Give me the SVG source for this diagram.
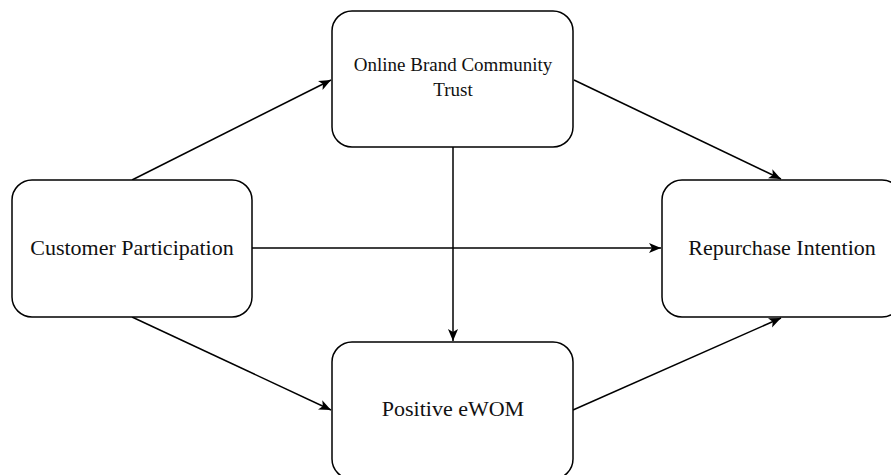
<svg xmlns="http://www.w3.org/2000/svg" width="891" height="475" viewBox="0 0 891 475">
<style>
.box{fill:#fff;stroke:#000;stroke-width:1.5}
.lbl{font-family:"Liberation Serif","Times New Roman",serif;font-size:22px;fill:#111;text-anchor:middle}
.sm{font-size:19px}
.edge{stroke:#000;stroke-width:1.5;fill:none;marker-end:url(#ah)}
</style>
<defs>
<marker id="ah" viewBox="0 0 10 10" refX="10" refY="5" markerWidth="12" markerHeight="12" markerUnits="userSpaceOnUse" orient="auto">
<path d="M0,0.8 L10,5 L0,9.2 L2.5,5 Z" fill="#000"/>
</marker>
</defs>
<rect width="891" height="475" fill="#fff"/>
<g id="connectors">
<line class="edge" x1="132" y1="180" x2="331" y2="80"/>
<line class="edge" x1="574" y1="80" x2="781" y2="179"/>
<line class="edge" x1="252" y1="248" x2="661" y2="248"/>
<line class="edge" x1="132" y1="317" x2="331" y2="410"/>
<line class="edge" x1="453" y1="147" x2="453" y2="341"/>
<line class="edge" x1="573" y1="410" x2="781" y2="318"/>
</g>
<g id="node-trust">
<rect class="box" x="332" y="11" width="241" height="136" rx="20"/>
<text class="lbl sm" x="453" y="71">Online Brand Community</text>
<text class="lbl sm" x="453" y="96">Trust</text>
</g>
<g id="node-participation">
<rect class="box" x="12" y="180" width="240" height="137" rx="20"/>
<text class="lbl" x="132" y="255">Customer Participation</text>
</g>
<g id="node-repurchase">
<rect class="box" x="662" y="180" width="240" height="137" rx="20"/>
<text class="lbl" x="782" y="255">Repurchase Intention</text>
</g>
<g id="node-ewom">
<rect class="box" x="332" y="342" width="241" height="137" rx="20"/>
<text class="lbl" x="453" y="416">Positive eWOM</text>
</g>
</svg>
